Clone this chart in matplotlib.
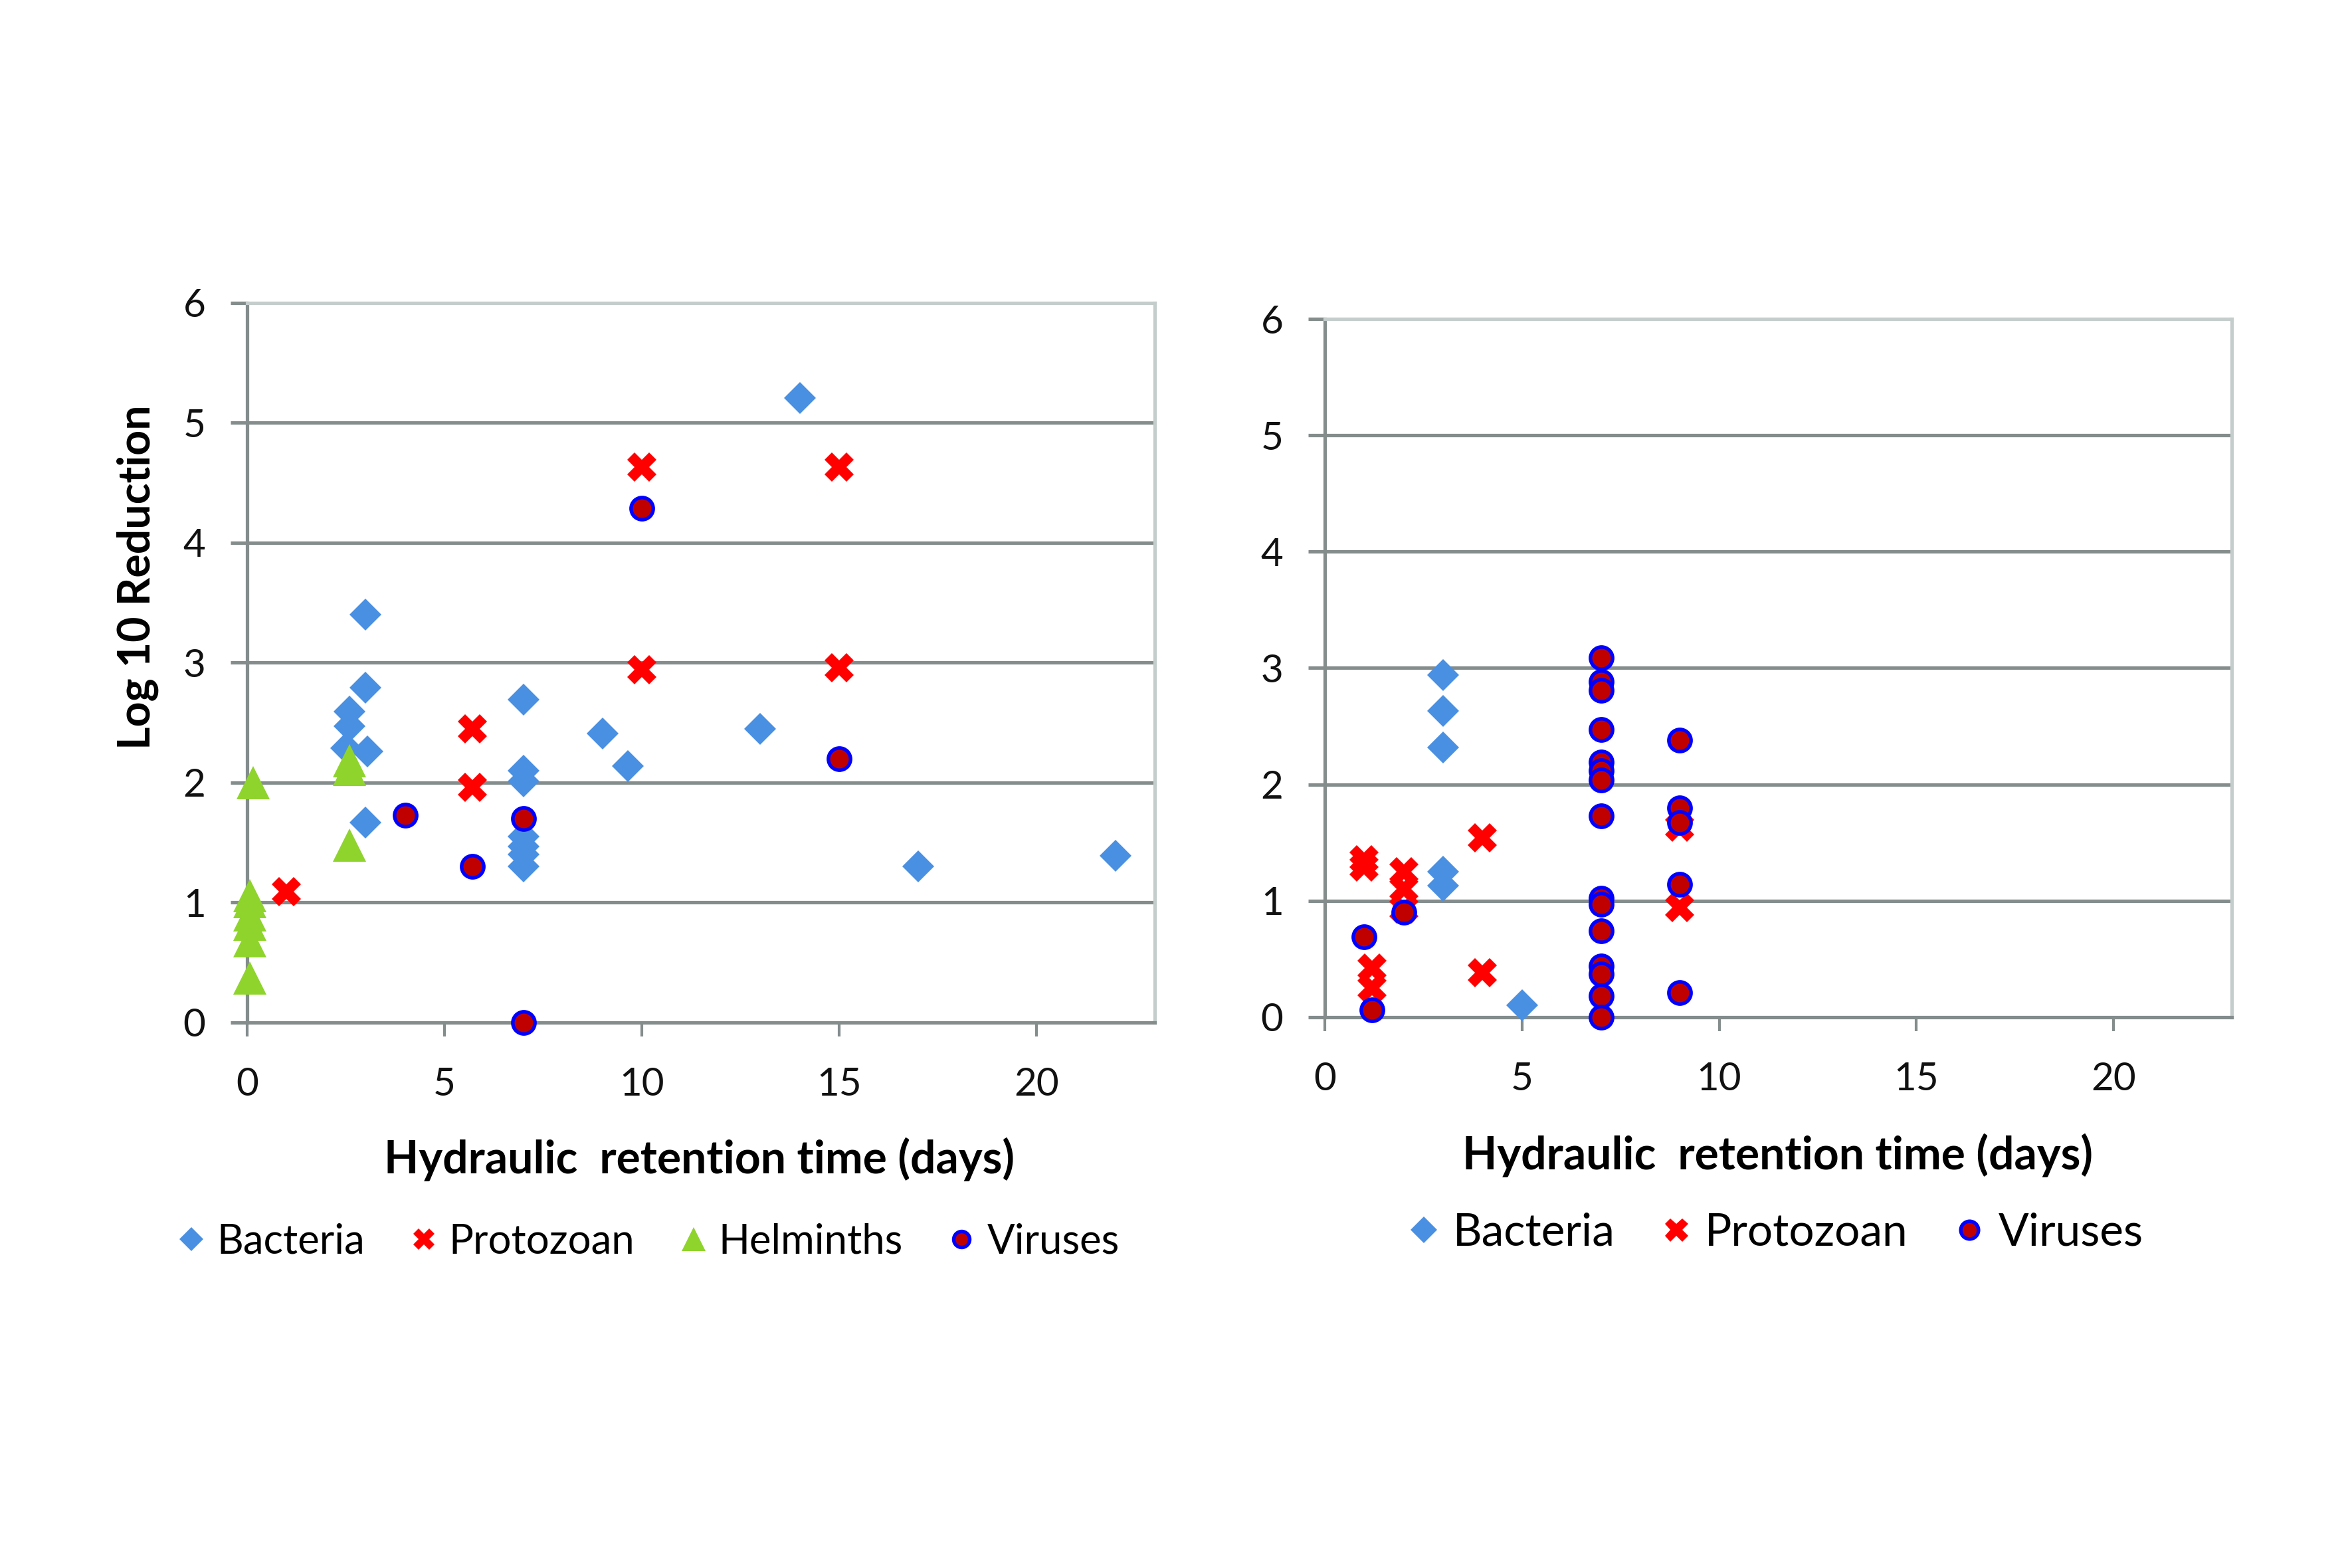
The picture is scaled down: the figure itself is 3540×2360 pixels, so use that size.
import matplotlib
matplotlib.use("Agg")
import matplotlib.pyplot as plt
from matplotlib.lines import Line2D

plt.rcParams['font.family'] = ['Lato', 'DejaVu Sans']

# ---------------- data ----------------
# Left panel
left_bacteria_x = [3, 3, 2.6, 2.6, 2.5, 3.05, 7, 9, 9.65, 7, 7, 3, 7, 7, 7, 7, 14, 13, 17, 22]
left_bacteria_y = [3.40, 2.79, 2.59, 2.47, 2.29, 2.26, 2.69, 2.41, 2.14, 2.10, 2.01, 1.67,
                   1.55, 1.47, 1.40, 1.30, 5.21, 2.45, 1.30, 1.39]
left_protozoan_x = [1, 5.7, 5.7, 10, 10, 15, 15]
left_protozoan_y = [1.09, 2.45, 1.96, 4.63, 2.94, 4.63, 2.96]
left_helminths_x = [0.15, 0.07, 0.07, 0.07, 0.07, 0.07, 0.07, 2.6, 2.6, 2.6]
left_helminths_y = [2.0, 1.06, 1.01, 0.90, 0.82, 0.68, 0.37, 2.18, 2.11, 1.48]
left_viruses_x = [4, 5.7, 7, 7, 10, 15]
left_viruses_y = [1.73, 1.30, 1.70, 0.0, 4.29, 2.20]

# Right panel
right_bacteria_x = [3, 3, 3, 3, 3, 5]
right_bacteria_y = [2.94, 2.63, 2.32, 1.25, 1.13, 0.10]
right_protozoan_x = [1, 1, 2, 2, 2, 4, 4, 1.2, 1.2, 9, 9]
right_protozoan_y = [1.35, 1.29, 1.25, 1.10, 0.93, 1.54, 0.38, 0.42, 0.25, 1.63, 0.94]
right_viruses_x = [1.0, 1.2, 2.0,
                   7, 7, 7, 7, 7, 7, 7, 7, 7, 7, 7, 7, 7, 7, 7,
                   9, 9, 9, 9, 9]
right_viruses_y = [0.69, 0.06, 0.90,
                   3.09, 2.88, 2.81, 2.47, 2.19, 2.12, 2.04, 1.73, 1.02, 0.97, 0.74, 0.44, 0.37, 0.18, 0.0,
                   2.38, 1.80, 1.67, 1.14, 0.21]

x_ticks = [0, 5, 10, 15, 20]
y_ticks = [0, 1, 2, 3, 4, 5, 6]
xlabel_text = "Hydraulic  retention time (days)"
ylabel_text = "Log 10 Reduction"
series_names = ["Bacteria", "Protozoan", "Helminths", "Viruses"]

# ---------------- styles ----------------
C_BACT = '#4a90e2'
C_PROT = '#ff0000'
C_HELM = '#8fd42c'
C_VIR_FACE = '#c00000'
C_VIR_EDGE = '#0000ff'
GRID = '#848c8c'
BORDER = '#c4cccc'

sty = {
    "Bacteria": dict(marker='D', ms=8.3, color=C_BACT, mec=C_BACT, mew=0),
    "Protozoan": dict(marker='X', ms=10.5, color=C_PROT, mec=C_PROT, mew=0),
    "Helminths": dict(marker='^', ms=12, color=C_HELM, mec=C_HELM, mew=0),
    "Viruses": dict(marker='o', ms=8.0, mfc=C_VIR_FACE, mec=C_VIR_EDGE, mew=1.3),
}

fig = plt.figure(figsize=(11.8, 7.8667), dpi=300)

ax1 = fig.add_axes([0.1051, 0.3479, 0.3859, 0.4589])
ax2 = fig.add_axes([0.5633, 0.3513, 0.3856, 0.4453])


def style_axis(ax):
    ax.set_xlim(0, 23)
    ax.set_ylim(0, 6)
    ax.set_xticks(x_ticks)
    ax.set_yticks(y_ticks)
    for y in y_ticks[1:-1]:
        ax.axhline(y, color=GRID, lw=1.25, zorder=1)
    for s in ['left', 'bottom']:
        ax.spines[s].set_color(GRID)
        ax.spines[s].set_linewidth(1.25)
    for s in ['top', 'right']:
        ax.spines[s].set_color(BORDER)
        ax.spines[s].set_linewidth(1.25)
    ax.tick_params(axis='y', direction='out', length=6, width=1.25, color=GRID,
                   labelsize=14, pad=9, labelcolor='#111111')
    ax.tick_params(axis='x', direction='out', length=5, width=1.0, color=GRID,
                   labelsize=14, pad=11, labelcolor='#111111')


def plot_series(ax, name, xs, ys, z):
    ax.plot(xs, ys, linestyle='none', zorder=z, clip_on=False, **sty[name])


style_axis(ax1)
plot_series(ax1, "Bacteria", left_bacteria_x, left_bacteria_y, 3)
plot_series(ax1, "Protozoan", left_protozoan_x, left_protozoan_y, 4)
plot_series(ax1, "Helminths", left_helminths_x, left_helminths_y, 5)
plot_series(ax1, "Viruses", left_viruses_x, left_viruses_y, 6)

style_axis(ax2)
plot_series(ax2, "Bacteria", right_bacteria_x, right_bacteria_y, 3)
plot_series(ax2, "Protozoan", right_protozoan_x, right_protozoan_y, 4)
plot_series(ax2, "Viruses", right_viruses_x, right_viruses_y, 6)

# axis labels
fig.text(0.2972, 0.2606, xlabel_text, ha='center', va='center', fontsize=16.3, fontweight='bold')
fig.text(0.7558, 0.2634, xlabel_text, ha='center', va='center', fontsize=16.3, fontweight='bold')
fig.text(0.0587, 0.6318, ylabel_text, ha='center', va='center', rotation=90,
         fontsize=15.9, fontweight='bold')


def handles(names):
    hs = []
    for n in names:
        hs.append(Line2D([], [], linestyle='none', label=n, **sty[n]))
    return hs


fig.legend(handles=handles(series_names), loc='center', bbox_to_anchor=(0.2752, 0.208),
           ncol=4, frameon=False, fontsize=14.8, handlelength=0.8, handletextpad=0.22,
           columnspacing=1.03, markerscale=0.72)
fig.legend(handles=handles(["Bacteria", "Protozoan", "Viruses"]), loc='center',
           bbox_to_anchor=(0.7545, 0.2136), ncol=3, frameon=False, fontsize=16.2,
           handlelength=0.8, handletextpad=0.24, columnspacing=0.97, markerscale=0.8)

fig.savefig("out.png", dpi=300)
